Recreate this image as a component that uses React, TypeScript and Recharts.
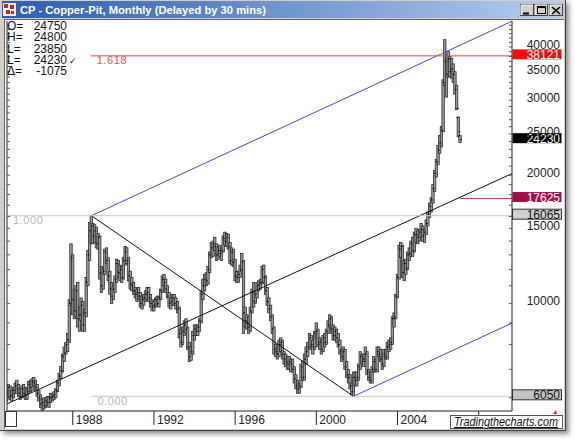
import React from 'react';
import { ComposedChart, Bar, XAxis, YAxis, ReferenceLine } from 'recharts';

const FONT = '"Liberation Sans", Arial, Helvetica, sans-serif';

// One bar per month, first bar October 1984, last bar February 2007
const firstYear = 1984;
const firstMonth = 10;

const opens = [
  6050, 6200, 6350,
  6050, 6100, 6250, 6400, 6300, 6150, 6050, 6300, 6150, 6100, 6200, 6450,
  6350, 6550, 6500, 6350, 6150, 6000, 5800, 5850, 5750, 5900, 5850, 6000,
  6000, 6050, 6100, 6250, 6500, 6750, 6950, 7500, 7650, 8000, 8200, 10000,
  12800, 10200, 9600, 10700, 9200, 9400, 9900, 8900, 9500, 11200, 13000, 14800,
  15200, 14400, 14800, 13800, 14300, 11800, 11000, 11900, 13200, 12600, 11600, 10800,
  10400, 10800, 11400, 12400, 11800, 12000, 11500, 12600, 13200, 12600, 11600, 11100,
  11000, 10700, 10500, 10600, 10400, 10000, 10200, 10300, 10500, 10600, 10300, 10000,
  9800, 9900, 10200, 10000, 10300, 10700, 11400, 11200, 10800, 10400, 10000, 10100,
  10300, 10000, 9900, 9700, 8500, 8100, 8600, 8900, 8700, 7900, 7500, 7700,
  8400, 8700, 8600, 8800, 9100, 10500, 11000, 11400, 11300, 12000, 13000, 13500,
  13800, 13600, 13000, 13300, 13100, 13300, 14200, 14000, 14300, 13600, 12600, 13200,
  12500, 11600, 11500, 11700, 12000, 12500, 9500, 9100, 9000, 8800, 9600, 10600,
  10100, 10500, 11000, 11100, 11200, 12000, 11500, 10700, 10100, 9700, 9300, 8700,
  7800, 7700, 7600, 8000, 8100, 7600, 7400, 7300, 7200, 7300, 7200, 7000,
  6650, 6400, 6300, 6400, 7100, 6700, 7400, 7700, 7900, 8300, 8000, 7900,
  8500, 8600, 8000, 8100, 7800, 8300, 8100, 8600, 8900, 9200, 8700, 8400,
  8600, 8300, 8000, 7700, 7500, 7700, 7100, 6800, 6700, 6400, 6200, 6700,
  6600, 6700, 7100, 7500, 7300, 7400, 7600, 6900, 6700, 6600, 7000, 7300,
  7000, 7700, 7600, 7400, 7200, 7600, 7500, 7900, 8000, 8100, 9200, 9300,
  10400, 11500, 13400, 13600, 11800, 12400, 12100, 13000, 13100, 13800, 13300, 14500,
  14500, 14300, 14700, 14900, 14400, 14700, 15400, 16200, 16900, 17500, 18600, 20200,
  21500, 22900, 23800, 25500, 33000, 37000, 34500, 37500, 35000, 35500, 34500, 31800,
  27300, 24750,
];

const highs = [
  6300, 6450, 6400,
  6250, 6350, 6500, 6600, 6450, 6300, 6400, 6450, 6350, 6300, 6550, 6600,
  6650, 6700, 6600, 6450, 6250, 6100, 5950, 6000, 6000, 6050, 6050, 6150,
  6150, 6200, 6300, 6600, 6850, 7100, 7600, 7900, 8100, 8500, 10200, 13800,
  13000, 10800, 11000, 11200, 9800, 10300, 10100, 9700, 11500, 13300, 15500, 16065,
  15400, 15300, 15100, 14600, 14400, 12200, 12100, 13400, 13500, 12800, 11900, 11200,
  11000, 11600, 12700, 12600, 12300, 12200, 12800, 13600, 13500, 12800, 11900, 11500,
  11200, 10900, 10800, 10900, 10600, 10400, 10500, 10700, 10900, 10900, 10500, 10200,
  10100, 10300, 10400, 10400, 10800, 11600, 11700, 11400, 11000, 10600, 10300, 10500,
  10500, 10300, 10100, 9800, 8700, 8800, 9100, 9200, 8800, 8100, 7900, 8600,
  8900, 8900, 8900, 9200, 10700, 11400, 11700, 11800, 12200, 13200, 13900, 14000,
  14300, 13800, 13500, 13700, 13500, 14400, 14700, 14600, 14500, 13900, 13500, 13400,
  12700, 11900, 11900, 12300, 13100, 12600, 9800, 9400, 9300, 9800, 10800, 11200,
  10700, 11200, 11300, 11400, 12200, 12300, 11600, 10900, 10300, 9900, 9400, 8800,
  8000, 7900, 8200, 8300, 8200, 7700, 7600, 7500, 7500, 7400, 7400, 7100,
  6800, 6600, 6500, 7200, 7300, 7600, 7900, 8100, 8500, 8400, 8200, 8600,
  9000, 8700, 8300, 8200, 8400, 8500, 8700, 9100, 9400, 9300, 8900, 8800,
  8700, 8500, 8200, 7800, 7900, 7800, 7300, 7000, 6800, 6500, 6900, 6900,
  6900, 7200, 7700, 7600, 7600, 7900, 7700, 7000, 6900, 7100, 7500, 7400,
  7900, 7900, 7800, 7500, 7800, 7800, 8100, 8200, 8300, 9300, 9500, 10500,
  11700, 13700, 13900, 13700, 12600, 12700, 13200, 13500, 14000, 14300, 14700, 15000,
  14800, 14900, 15400, 15200, 14900, 15700, 16400, 17200, 17700, 19000, 20500, 21800,
  23500, 24800, 26000, 33500, 41600, 38300, 39000, 38000, 37600, 36500, 35000, 32500,
  27400, 24800,
];

const lows = [
  5900, 6050, 5950,
  5900, 6000, 6150, 6150, 6050, 5950, 6000, 6050, 5950, 5950, 6150, 6200,
  6250, 6400, 6250, 6050, 5900, 5700, 5600, 5650, 5700, 5750, 5700, 5850,
  5900, 5950, 6000, 6200, 6400, 6650, 6900, 7300, 7600, 7700, 8100, 9900,
  9400, 9200, 9300, 8800, 8600, 9100, 8600, 8600, 9300, 11000, 12600, 13800,
  13800, 13900, 13500, 13400, 11400, 10600, 10800, 11700, 12400, 11300, 10500, 10000,
  10200, 10600, 11200, 11500, 11300, 11200, 11400, 12300, 12400, 11300, 10800, 10700,
  10500, 10300, 10100, 10200, 9800, 9700, 9900, 10100, 10200, 10100, 9800, 9600,
  9600, 9800, 9900, 9800, 10200, 10600, 11000, 10600, 10300, 9800, 9700, 9900,
  9900, 9700, 9500, 8300, 7900, 8000, 8400, 8500, 7800, 7300, 7350, 7600,
  8200, 8400, 8400, 8600, 9000, 10200, 10700, 11000, 11100, 11800, 12800, 12900,
  13300, 12600, 12700, 12900, 12600, 13200, 13700, 13600, 13400, 12400, 12300, 12200,
  11300, 11200, 11200, 11500, 11900, 8500, 8800, 8700, 8500, 8600, 9500, 9800,
  10000, 10300, 10700, 10800, 11100, 11200, 10500, 9900, 9500, 9100, 8500, 7600,
  7500, 7400, 7500, 7700, 7400, 7200, 7100, 7000, 7000, 6900, 6900, 6500,
  6300, 6150, 6150, 6350, 6600, 6600, 7200, 7500, 7800, 7900, 7600, 7800,
  8300, 7900, 7800, 7600, 7700, 7900, 8000, 8500, 8800, 8500, 8200, 8200,
  8100, 7900, 7600, 7300, 7400, 7000, 6700, 6500, 6300, 6100, 6050, 6400,
  6400, 6600, 7000, 7200, 7100, 7300, 6800, 6600, 6500, 6500, 6900, 6900,
  6900, 7500, 7300, 7000, 7100, 7400, 7400, 7700, 7800, 8000, 8800, 9200,
  10300, 11400, 12800, 11500, 11300, 11700, 12000, 12600, 12900, 12900, 13200, 13900,
  13800, 14000, 14300, 14000, 13900, 14500, 15200, 15900, 16400, 17200, 18300, 19800,
  21200, 22500, 23300, 25300, 32500, 30500, 34000, 34000, 33800, 33000, 31000, 28500,
  24600, 23850,
];

const closes = [
  6200, 6350, 6050,
  6100, 6250, 6400, 6300, 6150, 6050, 6300, 6150, 6100, 6200, 6450, 6350,
  6550, 6500, 6350, 6150, 6000, 5800, 5850, 5750, 5900, 5850, 6000, 6000,
  6050, 6100, 6250, 6500, 6750, 6950, 7500, 7650, 8000, 8200, 10000, 12800,
  10200, 9600, 10700, 9200, 9400, 9900, 8900, 9500, 11200, 13000, 14800, 15200,
  14400, 14800, 13800, 14300, 11800, 11000, 11900, 13200, 12600, 11600, 10800, 10400,
  10800, 11400, 12400, 11800, 12000, 11500, 12600, 13200, 12600, 11600, 11100, 11000,
  10700, 10500, 10600, 10400, 10000, 10200, 10300, 10500, 10600, 10300, 10000, 9800,
  9900, 10200, 10000, 10300, 10700, 11400, 11200, 10800, 10400, 10000, 10100, 10300,
  10000, 9900, 9700, 8500, 8100, 8600, 8900, 8700, 7900, 7500, 7700, 8400,
  8700, 8600, 8800, 9100, 10500, 11000, 11400, 11300, 12000, 13000, 13500, 13800,
  13600, 13000, 13300, 13100, 13300, 14200, 14000, 14300, 13600, 12600, 13200, 12500,
  11600, 11500, 11700, 12000, 12500, 9500, 9100, 9000, 8800, 9600, 10600, 10100,
  10500, 11000, 11100, 11200, 12000, 11500, 10700, 10100, 9700, 9300, 8700, 7800,
  7700, 7600, 8000, 8100, 7600, 7400, 7300, 7200, 7300, 7200, 7000, 6650,
  6400, 6300, 6400, 7100, 6700, 7400, 7700, 7900, 8300, 8000, 7900, 8500,
  8600, 8000, 8100, 7800, 8300, 8100, 8600, 8900, 9200, 8700, 8400, 8600,
  8300, 8000, 7700, 7500, 7700, 7100, 6800, 6700, 6400, 6200, 6700, 6600,
  6700, 7100, 7500, 7300, 7400, 7600, 6900, 6700, 6600, 7000, 7300, 7000,
  7700, 7600, 7400, 7200, 7600, 7500, 7900, 8000, 8100, 9200, 9300, 10400,
  11500, 13400, 13600, 11800, 12400, 12100, 13000, 13100, 13800, 13300, 14500, 14500,
  14300, 14700, 14900, 14400, 14700, 15400, 16200, 16900, 17500, 18600, 20200, 21500,
  22900, 23800, 25500, 33000, 37000, 34500, 37500, 35000, 35500, 34500, 31800, 28700,
  25305, 24230,
];

// axes
const xDomain = [1984.76, 2009.64];
const xTicks = [1988, 1992, 1996, 2000, 2004, 2008];
const yDomain = [5588, 46030];
const yTicks = [
  6000, 7000, 8000, 9000, 10000, 11000, 12000, 13000, 14000, 15000, 16000, 17000, 18000, 19000, 20000,
  21000, 22000, 23000, 24000, 25000, 26000, 27000, 28000, 29000, 30000, 31000, 32000, 33000, 34000,
  35000, 36000, 37000, 38000, 39000, 40000, 41000, 42000, 43000, 44000, 45000,
];
const yLabelTicks = [10000, 15000, 20000, 25000, 30000, 35000, 40000];

// data window
const dataWindowLabels = ['O=', 'H=', 'L=', 'L=', 'Δ='];
const dataWindowValues = ['24750', '24800', '23850', '24230', '-1075'];

// fibonacci levels
const fibRatios = ['1.618', '1.000', '0.000'];
const fibPrices = [38121, 16065, 6050];
const fibStarts = [1988.88, 1984.76, 1988.92];
const targetPrice = 17625;
const targetStart = 2007.08;
const lastPrice = 24230;

// trend lines (date, price anchor points)
const upperChannel = [{ x: 1988.92, y: 16065 }, { x: 2009.64, y: 45980 }];
const lowerChannel = [{ x: 2001.83, y: 6050 }, { x: 2009.64, y: 8990 }];
const declineLine = [{ x: 1988.92, y: 16065 }, { x: 2001.83, y: 6050 }];
const risingLine = [{ x: 1984.76, y: 5808 }, { x: 2009.64, y: 20170 }];

const bars = opens.map((o, i) => ({
  t: firstYear + (firstMonth - 1 + i) / 12,
  o,
  h: highs[i],
  l: lows[i],
  c: closes[i],
  range: [lows[i], highs[i]],
}));

const PLOT_RIGHT = 512;

function OhlcBar(props: any) {
  const { x, y, width, height, payload } = props;
  if (x == null || y == null) return null;
  const cx = x + width / 2;
  const top = Math.min(y, y + height);
  const bot = Math.max(y, y + height);
  const lh = Math.log(payload.h);
  const ll = Math.log(payload.l);
  const span = lh - ll;
  const py = (v: number) => (span > 0 ? top + ((lh - Math.log(v)) / span) * (bot - top) : top);
  return (
    <g>
      <rect x={cx - 1.2} y={top} width={2.4} height={Math.max(bot - top, 1)} fill="#9a9a9a" stroke="#1a1a1a" strokeWidth={0.7} />
      <line x1={cx - 2} x2={cx} y1={py(payload.o)} y2={py(payload.o)} stroke="#111" strokeWidth={0.9} />
      <line x1={cx} x2={cx + 2} y1={py(payload.c)} y2={py(payload.c)} stroke="#111" strokeWidth={0.9} />
    </g>
  );
}

function RightTick(props: any) {
  const { x, y, payload } = props;
  const v = payload.value;
  const major = yLabelTicks.indexOf(v) >= 0;
  return (
    <g>
      <line x1={x - 3} x2={x} y1={y} y2={y} stroke="#555" />
      {major ? (
        <text x={x + 48} y={y + 2} textAnchor="end" fontSize={12} fontFamily={FONT} fill="#222">
          {v}
        </text>
      ) : null}
    </g>
  );
}

function LeftTick(props: any) {
  const { x, y } = props;
  return <line x1={x} x2={x + 3} y1={y} y2={y} stroke="#555" />;
}

function XTick(props: any) {
  const { x, y, payload } = props;
  return (
    <g>
      <line x1={x} x2={x} y1={y} y2={y + 14} stroke="#222" />
      <text x={x + 3} y={y + 12.5} fontSize={12} fontFamily={FONT} fill="#222">
        {payload.value}
      </text>
    </g>
  );
}

function LevelLabel(props: any) {
  const { viewBox, ratio, ratioColor, price, fill, color, border } = props;
  if (!viewBox) return null;
  const y = viewBox.y;
  return (
    <g>
      {ratio ? (
        <text x={viewBox.x + 6} y={y + 8.5} fontSize={11} letterSpacing={0.6} fontFamily={FONT} fill={ratioColor}>
          {ratio}
        </text>
      ) : null}
      {price != null ? (
        <g>
          <rect x={PLOT_RIGHT + 0.5} y={y - 6.5} width={49} height={10} fill={fill} stroke={border || 'none'} />
          <text x={PLOT_RIGHT + 48} y={y + 3} textAnchor="end" fontSize={12} fontFamily={FONT} fill={color}>
            {price}
          </text>
        </g>
      ) : null}
    </g>
  );
}

function Chart() {
  return (
    <ComposedChart
      width={575}
      height={440}
      data={bars}
      margin={{ top: 21, right: 12, bottom: 13, left: 7 }}
      style={{ position: 'absolute', left: 0, top: 0 }}
    >
      <XAxis
        dataKey="t"
        type="number"
        domain={xDomain}
        allowDataOverflow
        ticks={xTicks}
        interval={0}
        height={16}
        axisLine={{ stroke: '#222' }}
        tickLine={false}
        tickSize={0}
        tickMargin={0}
        tick={<XTick />}
      />
      <YAxis
        yAxisId="r"
        orientation="right"
        scale="log"
        domain={yDomain}
        allowDataOverflow
        ticks={yTicks}
        interval={0}
        width={51}
        axisLine={{ stroke: '#222' }}
        tickLine={false}
        tickSize={0}
        tickMargin={0}
        tick={<RightTick />}
      />
      <YAxis
        yAxisId="l"
        orientation="left"
        mirror
        scale="log"
        domain={yDomain}
        allowDataOverflow
        ticks={yTicks}
        interval={0}
        axisLine={{ stroke: '#222' }}
        tickLine={false}
        tickSize={0}
        tickMargin={0}
        tick={<LeftTick />}
      />
      <Bar yAxisId="r" dataKey="range" barSize={2} shape={<OhlcBar />} isAnimationActive={false} />

      <ReferenceLine yAxisId="r" segment={risingLine} stroke="#111" strokeWidth={1} ifOverflow="hidden" />
      <ReferenceLine yAxisId="r" segment={declineLine} stroke="#111" strokeWidth={1} ifOverflow="hidden" />
      <ReferenceLine yAxisId="r" segment={upperChannel} stroke="#4848d0" strokeWidth={1} ifOverflow="hidden" />
      <ReferenceLine yAxisId="r" segment={lowerChannel} stroke="#4848d0" strokeWidth={1} ifOverflow="hidden" />

      <ReferenceLine
        yAxisId="r"
        segment={[{ x: fibStarts[0], y: fibPrices[0] }, { x: xDomain[1], y: fibPrices[0] }]}
        stroke="#e84848"
        label={<LevelLabel ratio={fibRatios[0]} ratioColor="#f05050" price={fibPrices[0]} fill="#f01010" color="#fff" />}
      />
      <ReferenceLine
        yAxisId="r"
        segment={[{ x: fibStarts[1], y: fibPrices[1] }, { x: xDomain[1], y: fibPrices[1] }]}
        stroke="#c8c8c8"
        label={<LevelLabel ratio={fibRatios[1]} ratioColor="#b8b8b8" price={fibPrices[1]} fill="#d0d0d0" color="#111" border="#333" />}
      />
      <ReferenceLine
        yAxisId="r"
        segment={[{ x: fibStarts[2], y: fibPrices[2] }, { x: xDomain[1], y: fibPrices[2] }]}
        stroke="#c8c8c8"
        label={<LevelLabel ratio={fibRatios[2]} ratioColor="#b8b8b8" price={fibPrices[2]} fill="#c4c4c4" color="#111" border="#333" />}
      />
      <ReferenceLine
        yAxisId="r"
        segment={[{ x: targetStart, y: targetPrice }, { x: xDomain[1], y: targetPrice }]}
        stroke="#b03068"
        label={<LevelLabel price={targetPrice} fill="#a01048" color="#fff" />}
      />
      <ReferenceLine
        yAxisId="r"
        segment={[{ x: targetStart, y: lastPrice }, { x: xDomain[1], y: lastPrice }]}
        stroke="none"
        strokeOpacity={0}
        label={<LevelLabel price={lastPrice} fill="#000" color="#fff" />}
      />
    </ComposedChart>
  );
}

export default function App() {
  const rowY = [30, 41.3, 52.6, 63.9, 75.2];
  return (
    <div style={{ position: 'fixed', left: 0, top: 0, width: 575, height: 440, background: '#fff', overflow: 'hidden', fontFamily: FONT }}>
      {/* window frame */}
      <div
        style={{
          position: 'absolute', left: 0, top: 0, width: 565, height: 430,
          background: '#d4d0c8', borderRight: '1px solid #404040', borderBottom: '1px solid #404040',
          boxShadow: '3px 3px 5px rgba(0,0,0,0.45)',
        }}
      />
      {/* client area */}
      <div style={{ position: 'absolute', left: 4, top: 19, width: 559, height: 409, background: '#fff', borderLeft: '1px solid #606060', borderTop: '1px solid #606060' }} />

      <Chart />

      <svg width={575} height={440} style={{ position: 'absolute', left: 0, top: 0, pointerEvents: 'none' }}>
        <defs>
          <linearGradient id="tb" x1="0" x2="1" y1="0" y2="0">
            <stop offset="0" stopColor="#2a5cae" />
            <stop offset="1" stopColor="#b6cdee" />
          </linearGradient>
        </defs>
        {/* title bar */}
        <rect x={2} y={1} width={562} height={17} fill="url(#tb)" />
        <rect x={3} y={3} width={13} height={13} fill="#f4f4f4" />
        <rect x={4} y={4} width={4} height={4} fill="#d02020" />
        <rect x={10} y={5} width={4} height={4} fill="#d02020" />
        <rect x={6} y={10} width={4} height={4} fill="#d02020" />
        <rect x={11} y={11} width={3} height={3} fill="#d02020" />
        <text x={20} y={14} fontSize={11.5} fontWeight="bold" fill="#fff" fontFamily={FONT} textLength={246} lengthAdjust="spacingAndGlyphs">
          CP - Copper-Pit, Monthly (Delayed by 30 mins)
        </text>
        {/* window buttons */}
        {[520, 534, 549].map((bx, i) => (
          <g key={i}>
            <rect x={bx + 0.5} y={4.5} width={13} height={11} fill="#d4d0c8" stroke="#404040" />
            <line x1={bx + 1} x2={bx + 13} y1={5} y2={5} stroke="#fff" />
            <line x1={bx + 1} x2={bx + 1} y1={5} y2={15} stroke="#fff" />
          </g>
        ))}
        <line x1={523} x2={529} y1={13.5} y2={13.5} stroke="#000" strokeWidth={2} />
        <rect x={537.5} y={6.5} width={8} height={7} fill="none" stroke="#000" />
        <line x1={537.5} x2={545.5} y1={7.5} y2={7.5} stroke="#000" />
        <path d="M552,7 L560,14 M560,7 L552,14" stroke="#000" strokeWidth={1.6} />

        {/* data window */}
        {dataWindowLabels.map((lab, i) => (
          <g key={i}>
            <text x={7} y={rowY[i]} fontSize={12} fill="#111" fontFamily={FONT}>{lab}</text>
            <text x={67} y={rowY[i]} fontSize={12} fill="#111" fontFamily={FONT} textAnchor="end">{dataWindowValues[i]}</text>
          </g>
        ))}
        <text x={69} y={rowY[3]} fontSize={9} fill="#111" fontFamily="DejaVu Sans">✓</text>

        {/* bottom-left box */}
        <rect x={5.5} y={411.5} width={11} height={15} fill="#fff" stroke="#333" />

        {/* watermark */}
        <rect x={450.5} y={415.5} width={112} height={13} fill="#fff" stroke="#555" />
        <text x={454} y={426} fontSize={12} fontStyle="italic" textDecoration="underline" fill="#111" fontFamily={FONT} textLength={104} lengthAdjust="spacingAndGlyphs">
          Tradingthecharts.com
        </text>
        <path d="M553,414 L556,410 L557,414 Z" fill="#e02020" />
      </svg>
    </div>
  );
}
